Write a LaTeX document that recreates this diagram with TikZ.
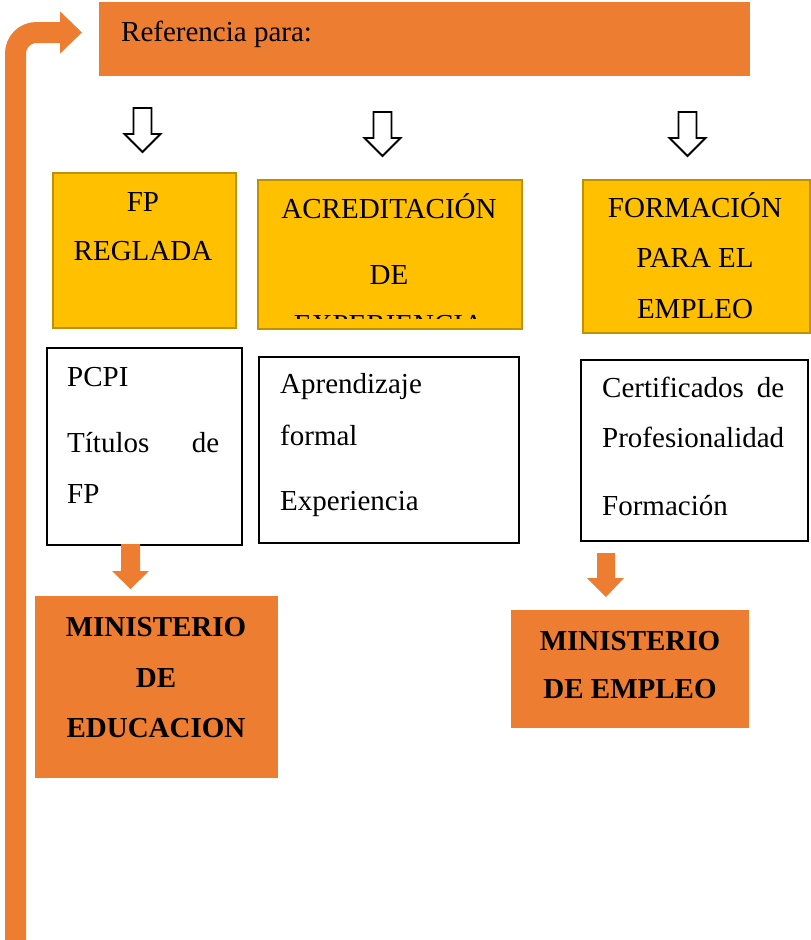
\documentclass[tikz,border=0pt]{standalone}
\usepackage{fontspec}
\setmainfont{Liberation Serif}
\usetikzlibrary{arrows.meta}
\definecolor{orng}{HTML}{ED7D31}
\definecolor{gold}{HTML}{FFC000}
\definecolor{goldline}{HTML}{BF9000}
\begin{document}
\begin{tikzpicture}[x=1pt,y=-1pt,
  font=\fontsize{29}{35}\selectfont,
  bar/.style={fill=orng, draw=none, inner sep=0pt, anchor=north west},
  catbox/.style={fill=gold, draw=goldline, line width=1.8pt, inner sep=0pt, anchor=north west},
  listbox/.style={draw=black, line width=2.2pt, fill=white, inner sep=0pt, anchor=north west},
  minbox/.style={fill=orng, draw=none, inner sep=0pt, anchor=north west},
  txt/.style={anchor=base, inner sep=0pt},
  ltxt/.style={anchor=base west, inner sep=0pt},
  btxt/.style={anchor=base, inner sep=0pt, font=\fontsize{29}{35}\selectfont\bfseries},
  hollow/.style={draw=black, line width=1.8pt, fill=white, line join=miter},
  blockarrow/.style={fill=orng, draw=none}]
\useasboundingbox (0,0) rectangle (811,940);

% top bar
\node[bar, minimum width=651pt, minimum height=74pt] (ref) at (99,2) {};
\node[ltxt] (reft) at (121,41) {Referencia para:};

% bent arrow on the left
\coordinate (start) at (15.5,940);
\coordinate (bend) at (15.5,32.5);
\coordinate (tip) at (82,32.5);
\draw[orng, line width=21pt, rounded corners=21pt,
  -{Triangle[length=22pt,width=41pt]}] (start) -- (bend) -- (tip);

% hollow arrows
\foreach \cx/\t in {142.5/108, 382.5/112, 687.5/112}{
  \draw[hollow] (\cx-9,\t) -- (\cx+9,\t) -- (\cx+9,\t+26) -- (\cx+18,\t+26)
    -- (\cx,\t+44) -- (\cx-18,\t+26) -- (\cx-9,\t+26) -- cycle;
}

% category boxes
\node[catbox, minimum width=183pt, minimum height=155pt] (fp) at (52,172) {};
\node[txt] (fp1) at (143,211) {FP};
\node[txt] (fp2) at (143,260) {REGLADA};

\node[catbox, minimum width=264pt, minimum height=149pt] (acr) at (257,179) {};
\node[txt] (acr1) at (389,218) {ACREDITACIÓN};
\node[txt] (acr2) at (389,284) {DE};
\begin{scope}
  \clip (257,300) rectangle (521,318);
  \node[txt] (acr3) at (389,334) {EXPERIENCIA};
\end{scope}

\node[catbox, minimum width=227pt, minimum height=153pt] (form) at (582,179) {};
\node[txt] (form1) at (695,217) {FORMACIÓN};
\node[txt] (form2) at (695,267) {PARA EL};
\node[txt] (form3) at (695,318) {EMPLEO};

% list boxes
\node[listbox, minimum width=195pt, minimum height=197pt] (l1) at (46,347) {};
\node[ltxt] (l1a) at (67,386) {PCPI};
\node[ltxt] (l1b) at (67,452) {\makebox[152pt][s]{Títulos de}};
\node[ltxt] (l1c) at (67,503) {FP};

\node[listbox, minimum width=260pt, minimum height=186pt] (l2) at (258,356) {};
\node[ltxt] (l2a) at (280,393) {Aprendizaje};
\node[ltxt] (l2b) at (280,445) {formal};
\node[ltxt] (l2c) at (280,510) {Experiencia};

\node[listbox, minimum width=227pt, minimum height=181pt] (l3) at (580,359) {};
\node[ltxt] (l3a) at (602,397) {\makebox[182pt][s]{Certificados de}};
\node[ltxt] (l3b) at (602,447) {Profesionalidad};
\node[ltxt] (l3c) at (602,515) {Formación};

% orange block arrows
\fill[blockarrow] (121,544) -- (140,544) -- (140,571) -- (149,571) -- (130.5,589)
  -- (112,571) -- (121,571) -- cycle;
\fill[blockarrow] (597,553) -- (615,553) -- (615,578) -- (624,578) -- (606,597)
  -- (587,578) -- (597,578) -- cycle;

% ministry boxes
\node[minbox, minimum width=243pt, minimum height=182pt] (med) at (35,596) {};
\node[btxt] (med1) at (156,636) {MINISTERIO};
\node[btxt] (med2) at (156,687) {DE};
\node[btxt] (med3) at (156,737) {EDUCACION};

\node[minbox, minimum width=238pt, minimum height=118pt] (memp) at (511,610) {};
\node[btxt] (memp1) at (630,650) {MINISTERIO};
\node[btxt] (memp2) at (630,698) {DE EMPLEO};
\end{tikzpicture}
\end{document}
